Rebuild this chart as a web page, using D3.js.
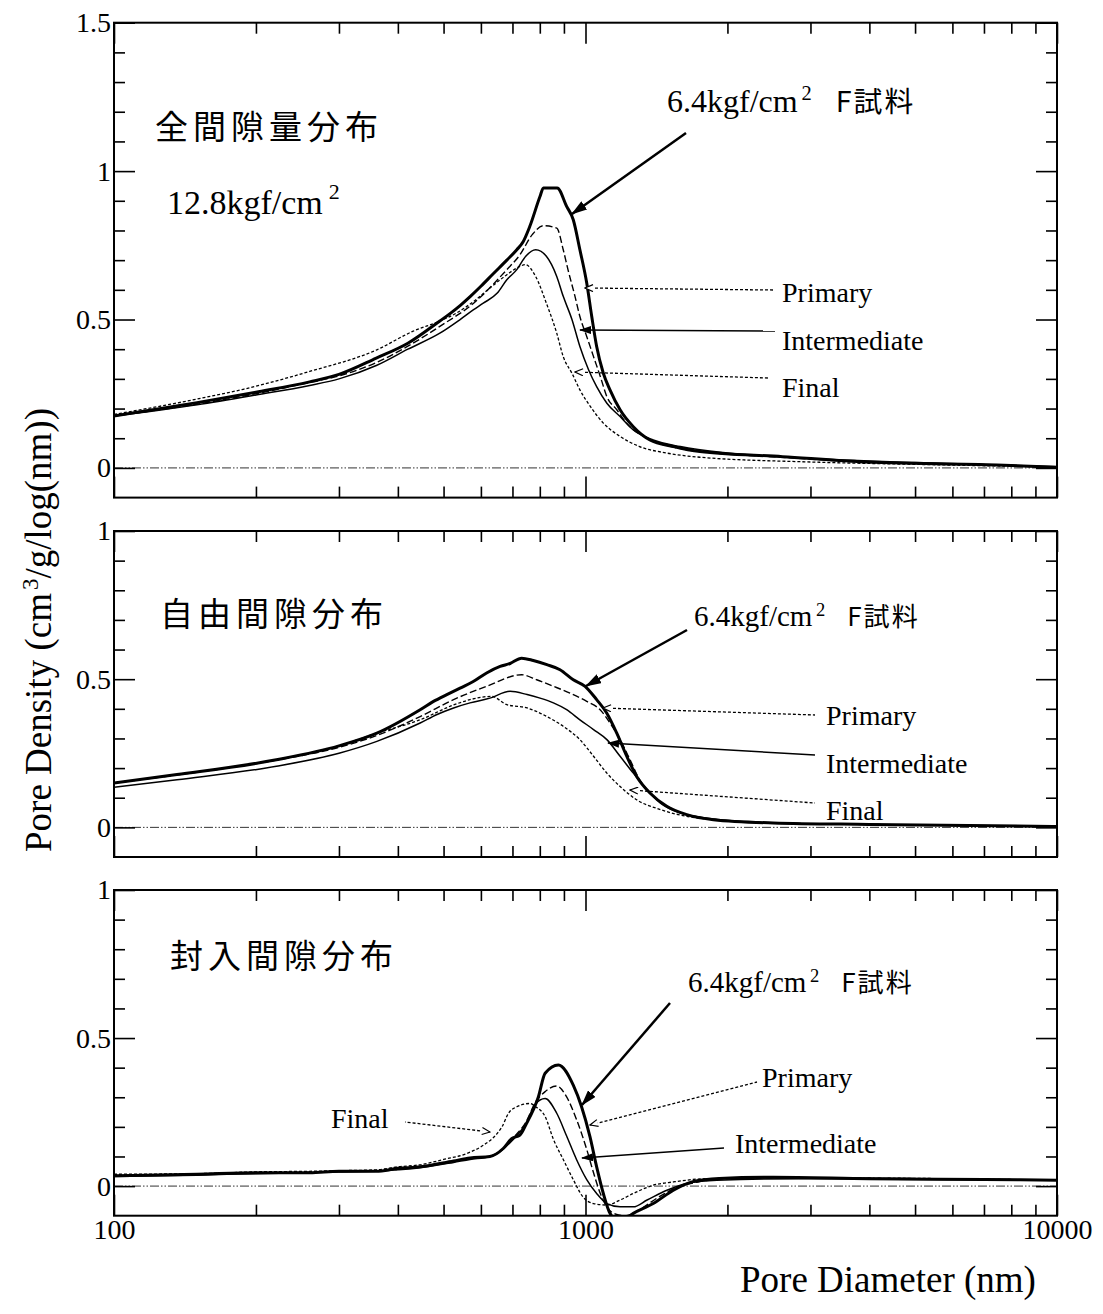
<!DOCTYPE html>
<html>
<head>
<meta charset="utf-8">
<script src="https://cdn.jsdelivr.net/npm/d3@7"></script>
<style>
  body { margin: 0; background: #fff; }
  svg { display: block; font-family: "Liberation Serif", "Times New Roman", serif; }
  .jp { font-family: "Noto Sans CJK JP", "Noto Sans CJK SC", sans-serif; }
</style>
</head>
<body>
<svg id="chart" width="1103" height="1314"></svg>
<script>
// ---- data (pore diameter nm, pore density) ----

const xMajorTicks = [100, 1000, 10000];
const xMinorTicks = [200, 300, 400, 500, 600, 700, 800, 900, 2000, 3000, 4000, 5000, 6000, 7000, 8000, 9000];
const totalYTicks = [0, 0.5, 1, 1.5];
const subYTicks = [0, 0.5, 1];

const panelTitles = ["全間隙量分布", "自由間隙分布", "封入間隙分布"];
const seriesLabels = ["Primary", "Intermediate", "Final"];
const fSampleLabel = ["6.4kgf/cm", "2", "F試料"];
const pressureLabel = ["12.8kgf/cm", "2"];

// 全間隙量分布
const totalF = [[100,0.175],[150,0.22],[200,0.255],[260,0.29],[300,0.315],[360,0.37],[420,0.42],[491,0.495],[516,0.52],[542,0.547],[570,0.578],[600,0.612],[638,0.655],[681,0.7],[715,0.735],[738,0.763],[762,0.814],[801,0.915],[814,0.943],[871,0.943],[912,0.881],[942,0.836],[973,0.735],[1006,0.623],[1031,0.51],[1056,0.409],[1091,0.319],[1127,0.263],[1184,0.196],[1263,0.139],[1370,0.094],[1536,0.072],[1749,0.055],[2618,0.038],[3802,0.021],[7460,0.01],[10000,0.002]];
const totalPrimary = [[100,0.175],[150,0.215],[200,0.25],[260,0.288],[300,0.31],[360,0.355],[420,0.41],[491,0.477],[579,0.555],[681,0.668],[726,0.718],[771,0.786],[814,0.816],[869,0.808],[897,0.735],[918,0.668],[950,0.578],[973,0.51],[1006,0.443],[1040,0.375],[1075,0.308],[1110,0.24],[1165,0.196],[1222,0.151],[1351,0.1],[1536,0.07],[1749,0.055],[2618,0.036],[3802,0.02],[7460,0.01],[10000,0.002]];
const totalIntermediate = [[100,0.175],[150,0.213],[200,0.246],[260,0.278],[300,0.3],[360,0.345],[420,0.4],[491,0.454],[542,0.5],[579,0.533],[607,0.555],[650,0.589],[681,0.634],[715,0.668],[747,0.713],[784,0.735],[826,0.713],[869,0.645],[897,0.578],[936,0.5],[973,0.409],[1015,0.331],[1056,0.274],[1110,0.218],[1184,0.173],[1263,0.128],[1392,0.094],[1589,0.072],[2000,0.05],[3000,0.032],[5000,0.018],[10000,0.004]];
const totalFinal = [[100,0.18],[150,0.232],[188,0.265],[260,0.325],[361,0.398],[430,0.46],[491,0.495],[533,0.522],[579,0.561],[627,0.606],[681,0.651],[726,0.679],[745,0.685],[784,0.645],[826,0.555],[869,0.454],[897,0.375],[936,0.319],[973,0.263],[1024,0.207],[1091,0.151],[1184,0.106],[1302,0.072],[1488,0.05],[1749,0.036],[3000,0.02],[5000,0.012],[10000,0.003]];

// 自由間隙分布
const freeF = [[100,0.15],[136,0.178],[221,0.228],[300,0.275],[361,0.318],[446,0.397],[476,0.425],[508,0.448],[542,0.47],[578,0.492],[617,0.521],[659,0.543],[692,0.553],[732,0.571],[775,0.563],[828,0.549],[883,0.532],[942,0.498],[998,0.476],[1056,0.431],[1109,0.386],[1165,0.318],[1223,0.24],[1284,0.172],[1370,0.116],[1487,0.071],[1639,0.043],[1867,0.026],[2500,0.015],[4000,0.01],[10000,0.003]];
const freePrimary = [[100,0.15],[136,0.177],[221,0.227],[300,0.27],[361,0.31],[446,0.374],[525,0.431],[617,0.476],[732,0.515],[788,0.498],[855,0.476],[927,0.453],[1006,0.425],[1074,0.397],[1127,0.352],[1184,0.296],[1243,0.228],[1302,0.161],[1392,0.105],[1536,0.06],[1774,0.032],[2500,0.015],[4000,0.01],[10000,0.003]];
const freeIntermediate = [[100,0.135],[136,0.161],[221,0.206],[300,0.25],[361,0.29],[446,0.352],[483,0.38],[525,0.403],[569,0.42],[627,0.436],[692,0.459],[752,0.448],[801,0.436],[855,0.42],[912,0.397],[973,0.363],[1040,0.33],[1110,0.296],[1184,0.24],[1263,0.183],[1351,0.127],[1442,0.082],[1589,0.049],[1802,0.032],[2500,0.015],[4000,0.01],[10000,0.003]];
const freeFinal = [[100,0.15],[136,0.178],[221,0.228],[300,0.275],[361,0.318],[446,0.363],[525,0.413],[569,0.431],[632,0.442],[681,0.414],[752,0.403],[828,0.374],[897,0.341],[973,0.296],[1040,0.24],[1110,0.183],[1184,0.138],[1284,0.093],[1442,0.06],[1639,0.037],[1867,0.026],[2500,0.015],[4000,0.01],[10000,0.003]];

// 封入間隙分布
const entrapF = [[100,0.035],[150,0.04],[200,0.045],[260,0.045],[300,0.05],[360,0.05],[400,0.06],[446,0.065],[525,0.085],[569,0.095],[627,0.1],[669,0.127],[698,0.161],[726,0.172],[750,0.212],[794,0.3],[821,0.381],[876,0.409],[942,0.341],[981,0.268],[1022,0.167],[1056,0.065],[1091,-0.025],[1127,-0.092],[1180,-0.12],[1263,-0.092],[1392,-0.059],[1536,-0.014],[1689,0.015],[1921,0.026],[2500,0.03],[4000,0.025],[7000,0.022],[10000,0.02]];
const entrapPrimary = [[100,0.035],[150,0.04],[200,0.045],[260,0.047],[300,0.05],[360,0.052],[400,0.06],[446,0.065],[525,0.085],[569,0.095],[627,0.1],[669,0.125],[700,0.16],[750,0.22],[781,0.28],[821,0.319],[869,0.338],[912,0.301],[957,0.225],[1006,0.124],[1040,0.045],[1075,-0.025],[1110,-0.07],[1160,-0.095],[1220,-0.1],[1300,-0.08],[1420,-0.04],[1560,-0.005],[1750,0.015],[2000,0.025],[3000,0.028],[6000,0.024],[10000,0.02]];
const entrapIntermediate = [[100,0.032],[150,0.037],[200,0.042],[260,0.045],[300,0.048],[360,0.05],[400,0.055],[446,0.062],[525,0.08],[569,0.09],[627,0.1],[669,0.125],[700,0.155],[750,0.215],[781,0.275],[821,0.296],[869,0.246],[912,0.169],[957,0.09],[1006,0.022],[1056,-0.025],[1110,-0.059],[1184,-0.07],[1263,-0.07],[1351,-0.047],[1488,-0.014],[1639,0.009],[1900,0.02],[3000,0.025],[10000,0.02]];
const entrapFinal = [[100,0.04],[150,0.042],[200,0.048],[260,0.05],[300,0.052],[360,0.055],[400,0.065],[446,0.072],[500,0.09],[560,0.11],[610,0.14],[650,0.178],[665,0.2],[686,0.245],[715,0.268],[762,0.279],[784,0.268],[821,0.235],[855,0.158],[897,0.09],[942,0.022],[987,-0.036],[1040,-0.059],[1110,-0.064],[1184,-0.047],[1263,-0.025],[1392,0.003],[1536,0.014],[1800,0.025],[3000,0.028],[10000,0.02]];

// ---- layout ----

let left = 114, right = 1057;
let majorTick = 21, minorTick = 11;

// line styles: F sample, Primary, Intermediate, Final
let lineStyles = [
  {width: 3, dash: null},
  {width: 1.4, dash: "7,3"},
  {width: 1.5, dash: null},
  {width: 1.3, dash: "3,2"}
];

let panels = [
  {top: 22.7, bottom: 497.6, yMax: 1.5, yTicks: totalYTicks,
   series: [totalF, totalPrimary, totalIntermediate, totalFinal],
   title: [155, 139], sub: [167, 214],
   fLabel: [667, 112], fSize: 32, fGap: 24, arrow: [[686, 133], [572, 214]],
   leaders: [
     {tip: [585, 288], end: [773, 290], text: [782, 302], head: "open", dash: "3,2"},
     {tip: [580, 330], end: [775, 331], text: [782, 350], head: "fill", dash: null},
     {tip: [575, 372], end: [768, 378], text: [782, 397], head: "open", dash: "3,2"}
   ]},
  {top: 531, bottom: 857, yMax: 1, yTicks: subYTicks,
   series: [freeF, freePrimary, freeIntermediate, freeFinal],
   title: [160, 626],
   fLabel: [694, 626], fSize: 29, fGap: 22, arrow: [[687, 630], [586, 686]],
   leaders: [
     {tip: [603, 708], end: [815, 715], text: [826, 725], head: "open", dash: "3,2"},
     {tip: [608, 743], end: [815, 755], text: [826, 773], head: "fill", dash: null},
     {tip: [630, 790], end: [815, 803], text: [826, 820], head: "open", dash: "3,2"}
   ]},
  {top: 890, bottom: 1215.7, yMax: 1, yTicks: subYTicks,
   series: [entrapF, entrapPrimary, entrapIntermediate, entrapFinal],
   title: [170, 968],
   fLabel: [688, 992], fSize: 29, fGap: 22, arrow: [[670, 1003], [582, 1105]],
   leaders: [
     {tip: [590, 1125], end: [757, 1082], text: [762, 1087], head: "open", dash: "3,2"},
     {tip: [582, 1158], end: [724, 1148], text: [735, 1153], head: "fill", dash: null},
     {tip: [490, 1132], end: [405, 1122], text: [331, 1128], head: "open", dash: "3,2"}
   ]}
];

let svg = d3.select("#chart");
let defs = svg.append("defs");

// arrow heads
defs.append("marker")
    .attr("id", "bigHead")
    .attr("viewBox", "0 0 16 10")
    .attr("refX", 15).attr("refY", 5)
    .attr("markerWidth", 16).attr("markerHeight", 10)
    .attr("markerUnits", "userSpaceOnUse")
    .attr("orient", "auto")
  .append("path")
    .attr("d", "M0,0 L16,5 L0,10 Z")
    .attr("fill", "#000");

defs.append("marker")
    .attr("id", "head-open")
    .attr("viewBox", "0 0 10 8")
    .attr("refX", 1).attr("refY", 4)
    .attr("markerWidth", 10).attr("markerHeight", 8)
    .attr("markerUnits", "userSpaceOnUse")
    .attr("orient", "auto")
  .append("path")
    .attr("d", "M9,0.5 L1,4 L9,7.5")
    .attr("fill", "#fff")
    .attr("stroke", "#000")
    .attr("stroke-width", 1.2);

defs.append("marker")
    .attr("id", "head-fill")
    .attr("viewBox", "0 0 12 8")
    .attr("refX", 1).attr("refY", 4)
    .attr("markerWidth", 12).attr("markerHeight", 8)
    .attr("markerUnits", "userSpaceOnUse")
    .attr("orient", "auto")
  .append("path")
    .attr("d", "M12,0 L0,4 L12,8 Z")
    .attr("fill", "#000");

let x = d3.scaleLog().domain([100, 10000]).range([left, right]);

function styleAxis(g, fontSize) {
  g.attr("font-family", null).attr("font-size", fontSize);
  g.select(".domain").remove();
  g.selectAll(".tick line").attr("stroke", "#000").attr("stroke-width", 1.6);
  g.selectAll(".tick text").attr("fill", "#000");
}

panels.forEach(function(p, i) {

  let y = d3.scaleLinear().domain([-0.1, p.yMax]).range([p.bottom, p.top]);
  let root = svg.append("g").attr("class", "panel panel-" + i);

  let yMinor = d3.range(0, Math.round(p.yMax * 10) + 1)
      .map(d => d / 10)
      .filter(d => !p.yTicks.some(t => Math.abs(t - d) < 1e-6));

  defs.append("clipPath")
      .attr("id", "clip" + i)
    .append("rect")
      .attr("x", left)
      .attr("y", p.top)
      .attr("width", right - left)
      .attr("height", p.bottom - p.top);

  // zero line
  root.append("line")
      .attr("x1", x(100)).attr("x2", x(10000))
      .attr("y1", y(0)).attr("y2", y(0))
      .attr("stroke", "#333")
      .attr("stroke-width", 1)
      .attr("stroke-dasharray", "9,2,1.5,2,1.5,2");

  // curves
  let line = d3.line()
      .x(d => x(d[0]))
      .y(d => y(d[1]))
      .curve(d3.curveMonotoneX);

  root.append("g")
      .attr("clip-path", `url(#clip${i})`)
    .selectAll("path")
    .data(p.series)
    .join("path")
      .attr("d", line)
      .attr("fill", "none")
      .attr("stroke", "#000")
      .attr("stroke-linejoin", "round")
      .attr("stroke-width", (d, k) => lineStyles[k].width)
      .attr("stroke-dasharray", (d, k) => lineStyles[k].dash);

  // frame
  root.append("rect")
      .attr("x", left)
      .attr("y", p.top)
      .attr("width", right - left)
      .attr("height", p.bottom - p.top)
      .attr("fill", "none")
      .attr("stroke", "#000")
      .attr("stroke-width", 2);

  // y axes (left with labels, right ticks only)
  root.append("g")
      .attr("transform", `translate(${left},0)`)
      .call(d3.axisLeft(y).tickValues(p.yTicks).tickSize(-majorTick).tickPadding(3).tickFormat(d3.format("~g")))
      .call(styleAxis, 28);
  root.append("g")
      .attr("transform", `translate(${left},0)`)
      .call(d3.axisLeft(y).tickValues(yMinor).tickSize(-minorTick).tickFormat(""))
      .call(styleAxis, 28);
  root.append("g")
      .attr("transform", `translate(${right},0)`)
      .call(d3.axisRight(y).tickValues(p.yTicks).tickSize(-majorTick).tickFormat(""))
      .call(styleAxis, 28);
  root.append("g")
      .attr("transform", `translate(${right},0)`)
      .call(d3.axisRight(y).tickValues(yMinor).tickSize(-minorTick).tickFormat(""))
      .call(styleAxis, 28);

  // x axes (bottom labelled only on the last panel)
  let last = i === panels.length - 1;
  root.append("g")
      .attr("transform", `translate(0,${p.bottom})`)
      .call(d3.axisBottom(x).tickValues(xMajorTicks).tickSize(-majorTick).tickPadding(3)
        .tickFormat(last ? d3.format("d") : ""))
      .call(styleAxis, 28);
  root.append("g")
      .attr("transform", `translate(0,${p.bottom})`)
      .call(d3.axisBottom(x).tickValues(xMinorTicks).tickSize(-minorTick).tickFormat(""))
      .call(styleAxis, 28);
  root.append("g")
      .attr("transform", `translate(0,${p.top})`)
      .call(d3.axisTop(x).tickValues(xMajorTicks).tickSize(-majorTick).tickFormat(""))
      .call(styleAxis, 28);
  root.append("g")
      .attr("transform", `translate(0,${p.top})`)
      .call(d3.axisTop(x).tickValues(xMinorTicks).tickSize(-minorTick).tickFormat(""))
      .call(styleAxis, 28);

  // panel title
  root.append("text")
      .attr("class", "jp")
      .attr("x", p.title[0])
      .attr("y", p.title[1])
      .attr("font-size", 33)
      .attr("letter-spacing", 5)
      .text(panelTitles[i]);

  // pressure note (first panel only)
  if (p.sub) {
    let t = root.append("text")
        .attr("x", p.sub[0])
        .attr("y", p.sub[1])
        .attr("font-size", 34);
    t.append("tspan").text(pressureLabel[0]);
    t.append("tspan").attr("dx", 6).attr("dy", -15).attr("font-size", 22).text(pressureLabel[1]);
  }

  // F sample label and arrow
  let fs = p.fSize;
  let f = root.append("text")
      .attr("x", p.fLabel[0])
      .attr("y", p.fLabel[1])
      .attr("font-size", fs);
  f.append("tspan").text(fSampleLabel[0]);
  f.append("tspan").attr("dx", fs * 0.12).attr("dy", -fs * 0.36).attr("font-size", fs * 0.64).text(fSampleLabel[1]);
  f.append("tspan")
      .attr("class", "jp")
      .attr("dx", p.fGap)
      .attr("dy", fs * 0.36)
      .attr("font-size", fs * 0.9)
      .attr("letter-spacing", 2)
      .text(fSampleLabel[2]);

  root.append("line")
      .attr("x1", p.arrow[0][0]).attr("y1", p.arrow[0][1])
      .attr("x2", p.arrow[1][0]).attr("y2", p.arrow[1][1])
      .attr("stroke", "#000")
      .attr("stroke-width", 2.5)
      .attr("marker-end", "url(#bigHead)");

  // series leaders
  p.leaders.forEach(function(l, k) {
    root.append("line")
        .attr("x1", l.tip[0]).attr("y1", l.tip[1])
        .attr("x2", l.end[0]).attr("y2", l.end[1])
        .attr("stroke", "#000")
        .attr("stroke-width", l.dash ? 1.3 : 1.5)
        .attr("stroke-dasharray", l.dash)
        .attr("marker-start", `url(#head-${l.head})`);

    root.append("text")
        .attr("x", l.text[0])
        .attr("y", l.text[1])
        .attr("font-size", 28)
        .text(seriesLabels[k]);
  });
});

// axis titles
let yTitle = svg.append("text")
    .attr("transform", "translate(51,630) rotate(-90)")
    .attr("text-anchor", "middle")
    .attr("font-size", 37);
yTitle.append("tspan").text("Pore Density (cm");
yTitle.append("tspan").attr("dx", 3).attr("dy", -13).attr("font-size", 23).text("3");
yTitle.append("tspan").attr("dy", 13).text("/g/log(nm))");

svg.append("text")
    .attr("x", 740)
    .attr("y", 1292)
    .attr("font-size", 37)
    .text("Pore Diameter (nm)");
</script>
</body>
</html>
